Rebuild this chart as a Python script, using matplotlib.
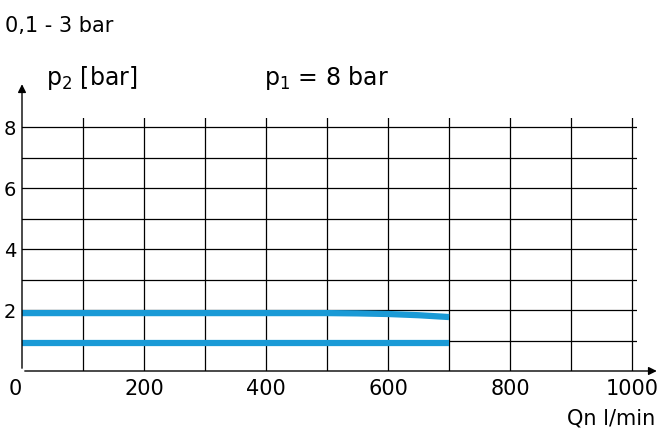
import matplotlib.pyplot as plt
import numpy as np

# curve data
q_upper = [0, 100, 200, 300, 400, 500, 550, 600, 650, 700]
p_upper = [1.9, 1.9, 1.9, 1.9, 1.9, 1.9, 1.89, 1.87, 1.83, 1.77]
q_lower = [0, 100, 200, 300, 400, 500, 600, 700]
p_lower = [0.92, 0.92, 0.92, 0.92, 0.92, 0.92, 0.92, 0.92]

xticks = [0, 200, 400, 600, 800, 1000]
yticks = [2, 4, 6, 8]

fig = plt.figure(figsize=(6.59, 4.36), dpi=100)
ax = fig.add_axes([22 / 659, 65 / 436, 615 / 659, 253 / 436])
ax.set_xlim(0, 1008)
ax.set_ylim(0, 8.3)

for x in range(100, 1001, 100):
    ax.axvline(x, color='black', lw=0.9)
for y in range(1, 9):
    ax.axhline(y, color='black', lw=0.9)

ax.plot(q_upper, p_upper, color='#1a9ad6', lw=4.5, solid_capstyle='butt')
ax.plot(q_lower, p_lower, color='#1a9ad6', lw=4.5, solid_capstyle='butt')

for s in ax.spines.values():
    s.set_visible(False)
ax.annotate('', xy=(0, 9.5), xytext=(0, 0), annotation_clip=False,
            arrowprops=dict(arrowstyle='-|>', color='black', lw=1, mutation_scale=12))
ax.annotate('', xy=(1045, 0), xytext=(0, 0), annotation_clip=False,
            arrowprops=dict(arrowstyle='-|>', color='black', lw=1, mutation_scale=12))

ax.set_xticks(xticks)
ax.set_yticks(yticks)
ax.tick_params(axis='x', length=0, labelsize=15, pad=6)
ax.tick_params(axis='y', length=0, labelsize=14, pad=4)
ax.set_xticklabels([str(v) for v in xticks])
ax.get_xticklabels()[0].set_ha('right')

fig.text(0.008, 0.94, '0,1 - 3 bar', fontsize=15, va='center')
fig.text(0.07, 0.82, r'p$_2$ [bar]', fontsize=17, va='center')
fig.text(0.40, 0.82, r'p$_1$ = 8 bar', fontsize=17, va='center')
fig.text(0.995, 0.04, 'Qn l/min', fontsize=15, ha='right', va='center')

fig.savefig('out.png', dpi=100)
